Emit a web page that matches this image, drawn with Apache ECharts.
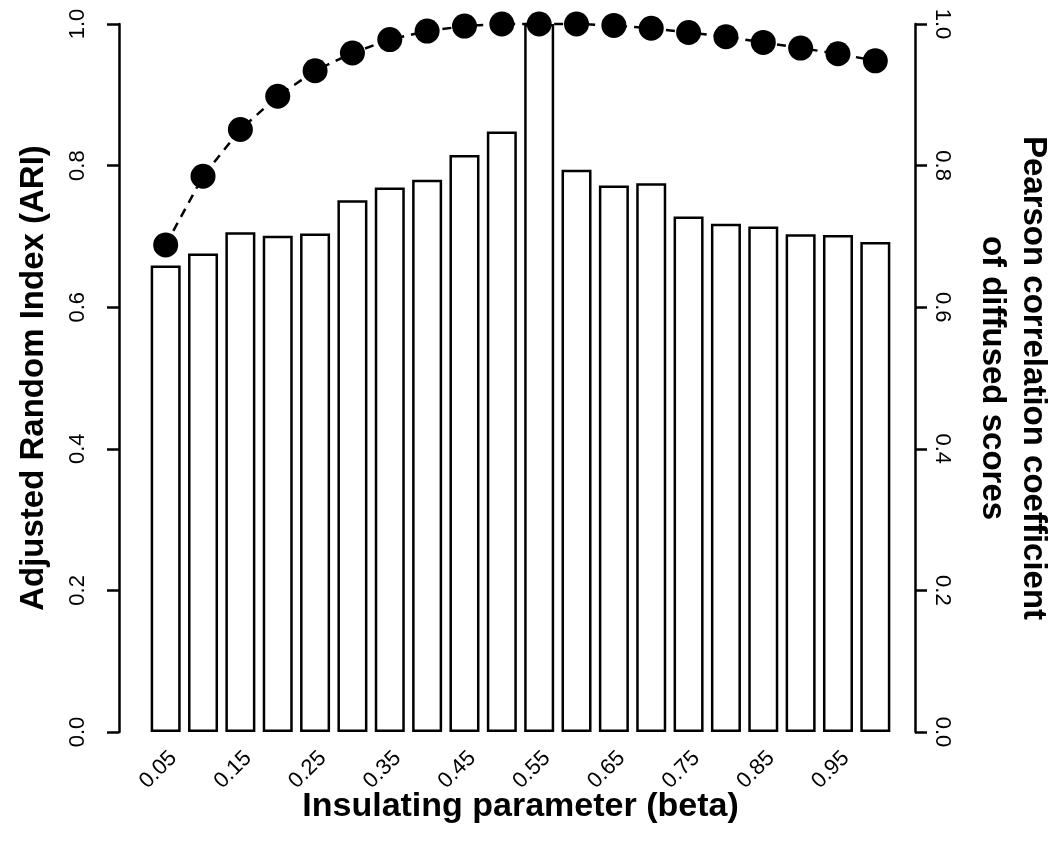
<!DOCTYPE html>
<html>
<head>
<meta charset="utf-8">
<script src="https://cdn.jsdelivr.net/npm/echarts@6/dist/echarts.min.js"></script>
<style>
html,body{margin:0;padding:0;background:#fff;}
#chart{width:1052px;height:842px;}
</style>
</head>
<body>
<div id="chart"></div>
<script>
const betas = ['0.05','0.1','0.15','0.2','0.25','0.3','0.35','0.4','0.45','0.5','0.55','0.6','0.65','0.7','0.75','0.8','0.85','0.9','0.95','1'];
const betaLabels = ['0.05','0.10','0.15','0.20','0.25','0.30','0.35','0.40','0.45','0.50','0.55','0.60','0.65','0.70','0.75','0.80','0.85','0.90','0.95','1.00'];
const ari = [0.659,0.676,0.706,0.701,0.704,0.751,0.769,0.780,0.815,0.848,1.0,0.794,0.772,0.775,0.728,0.718,0.714,0.703,0.702,0.692];
const pearson = [0.688,0.785,0.851,0.898,0.934,0.959,0.978,0.990,0.997,1.0,1.0,1.0,0.998,0.994,0.988,0.982,0.974,0.966,0.958,0.948];
const yTicks = [0, 0.2, 0.4, 0.6, 0.8, 1.0];

const FONT = '"Liberation Sans", Arial, sans-serif';
const chart = echarts.init(document.getElementById('chart'), null, {renderer:'canvas'});

function yAxisCommon(pos, offset, rot, margin) {
  return {
    type: 'value', position: pos, offset: offset,
    min: yTicks[0], max: yTicks[yTicks.length-1], interval: 0.2,
    splitLine: {show:false},
    axisLine: {show:true, lineStyle:{color:'#000', width:2.5}},
    axisTick: {show:true, inside:false, length:12, lineStyle:{color:'#000', width:2.5}},
    axisLabel: {show:true, rotate: rot, margin: margin, color:'#000', fontFamily: FONT, fontSize: 22,
      formatter: v => v.toFixed(1)},
    nameLocation: 'middle',
    nameRotate: rot,
    nameMoveOverlap: false,
    nameTextStyle: {color:'#000', fontFamily: FONT, fontWeight:'bold', fontSize: 33, lineHeight: 41}
  };
}

const left = yAxisCommon('left', 28, 90, 30);
left.name = 'Adjusted Random Index (ARI)';
left.nameGap = 65;
const right = yAxisCommon('right', 21, -90, 16);
right.name = 'Pearson correlation coefficient\nof diffused scores';
right.nameGap = 57;

chart.setOption({
  animation: false,
  backgroundColor: '#fff',
  grid: {left: 147, right: 158, top: 24, bottom: 110, containLabel:false, outerBoundsMode: 'none'},
  xAxis: {
    type: 'category', data: betaLabels, boundaryGap: true,
    axisLine: {show:false}, axisTick: {show:false},
    axisLabel: {interval: 1, rotate: 45, margin: 15, verticalAlign: 'top', color:'#000', fontFamily: FONT, fontSize: 22},
    name: 'Insulating parameter (beta)', nameLocation: 'middle', nameGap: 58,
    nameMoveOverlap: false,
    nameTextStyle: {color:'#000', fontFamily: FONT, fontWeight:'bold', fontSize: 34}
  },
  yAxis: [left, right],
  series: [
    {
      type: 'bar', data: ari, yAxisIndex: 0, barWidth: 30,
      itemStyle: {color:'#fff', borderColor:'#000', borderWidth: 2.5},
      z: 2
    },
    {
      type: 'line', data: pearson, yAxisIndex: 1, clip: false,
      symbol: 'circle', symbolSize: 25, showSymbol: true, showAllSymbol: true,
      lineStyle: {color:'#000', width: 2.5, type: [9, 7]},
      itemStyle: {color:'#000'},
      z: 3
    }
  ]
});
</script>
</body>
</html>
